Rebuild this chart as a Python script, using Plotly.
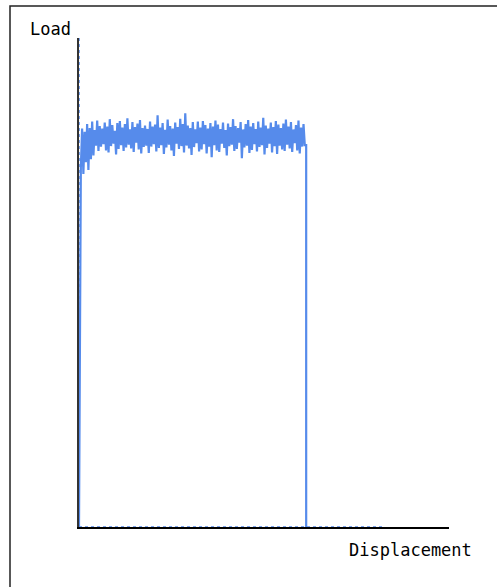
import plotly.graph_objects as go

W, H = 497, 587

# Sampling interval of the recorded displacement (arbitrary units)
step = 0.34
start_disp = 0.5

# Load readings along the plateau (arbitrary units 0-100)
plateau_load = [
    73.5, 81.5, 72.2, 80.8, 74.6, 82.4, 73.0, 81.6, 75.2, 82.9, 76.0, 81.2, 78.0, 83.1, 76.9, 82.0, 77.8, 81.5, 78.3,
    82.7, 77.0, 81.9, 76.6, 83.4, 77.9, 82.2, 78.4, 81.0, 76.2, 82.6, 77.3, 83.0, 78.1, 81.7, 76.9, 82.4, 77.6, 83.6, 78.2,
    81.3, 77.4, 82.8, 76.7, 81.8, 78.6, 82.5, 77.2, 83.2, 76.4, 81.6, 77.7, 82.1, 78.0, 81.4, 76.5, 82.9, 77.8, 81.9, 78.3,
    82.3, 76.8, 84.2, 77.5, 81.7, 78.1, 82.6, 76.3, 81.2, 77.6, 83.3, 78.2, 82.0, 77.0, 81.5, 75.9, 82.7, 78.4, 81.8, 77.3,
    83.5, 77.9, 82.4, 76.6, 84.6, 78.0, 82.1, 77.4, 81.6, 76.1, 82.8, 77.7, 81.3, 78.5, 82.9, 76.8, 81.7, 77.2, 83.0, 78.3,
    82.2, 76.4, 81.5, 77.8, 82.6, 75.6, 81.9, 78.1, 83.1, 77.0, 82.3, 76.7, 81.4, 78.4, 82.7, 77.5, 81.2, 76.0, 82.5, 77.9,
    81.8, 78.2, 83.4, 76.9, 82.0, 77.3, 81.6, 78.6, 82.8, 75.4, 81.3, 77.6, 82.4, 78.0, 83.2, 76.5, 81.9, 77.1, 82.6, 78.3,
    81.4, 76.8, 82.9, 77.7, 81.7, 78.1, 83.7, 76.2, 82.1, 77.5, 81.5, 78.4, 82.7, 76.6, 81.8, 77.9, 83.0, 76.3, 82.3, 78.0,
    81.6, 77.2, 82.5, 76.9, 83.3, 78.2, 81.9, 77.4, 82.8, 76.7, 81.3, 78.5, 82.2, 77.0, 83.1, 76.4, 81.7, 77.8, 82.4, 78.1,
]

# Failure point and residual readings after failure
failure_disp = 61.4
residual_end_disp = 82.0

x_range = [0, 100]
y_range = [0, 100]

line_color = "#568BEB"

disp = [0.0] + [start_disp + i * step for i in range(len(plateau_load))] + [failure_disp, failure_disp]
load = [0.0] + plateau_load + [plateau_load[-1], 0.0]

fig = go.Figure()

# readings recorded at zero displacement (along the load axis)
fig.add_trace(go.Scatter(x=[0, 0], y=[0, y_range[1]], mode="lines",
                         line=dict(color=line_color, width=1.5, dash="dot"),
                         hoverinfo="skip", showlegend=False))
# residual readings after failure (along the displacement axis)
fig.add_trace(go.Scatter(x=[0, residual_end_disp], y=[0, 0], mode="lines",
                         line=dict(color=line_color, width=1.5, dash="dot"),
                         hoverinfo="skip", showlegend=False))
# main curve
fig.add_trace(go.Scatter(x=disp, y=load, mode="lines",
                         line=dict(color=line_color, width=2.2),
                         showlegend=False))

left_px, right_px, top_px, bottom_px = 79, 449, 38, 527

fig.update_layout(
    width=W, height=H,
    margin=dict(l=0, r=0, t=0, b=0),
    paper_bgcolor="white", plot_bgcolor="white",
    xaxis=dict(domain=[left_px / W, right_px / W], range=x_range,
               showgrid=False, zeroline=False, showticklabels=False, ticks="",
               showline=True, linecolor="black", linewidth=1.5),
    yaxis=dict(domain=[1 - bottom_px / H, 1 - top_px / H], range=y_range,
               showgrid=False, zeroline=False, showticklabels=False, ticks="",
               showline=True, linecolor="#333", linewidth=1.5),
    font=dict(family="DejaVu Sans Mono", color="black"),
    shapes=[
        dict(type="rect", xref="paper", yref="paper",
             x0=10 / W, x1=1.02, y0=-0.02, y1=1 - 6 / H,
             line=dict(color="#222", width=1.5), fillcolor="rgba(0,0,0,0)"),
    ],
    annotations=[
        dict(text="Load", xref="paper", yref="paper", x=50 / W, y=1 - 29 / H,
             showarrow=False, xanchor="center", yanchor="middle",
             font=dict(size=17, family="DejaVu Sans Mono")),
        dict(text="Displacement", xref="paper", yref="paper", x=410 / W, y=1 - 550 / H,
             showarrow=False, xanchor="center", yanchor="middle",
             font=dict(size=17, family="DejaVu Sans Mono")),
    ],
)

fig.write_html("out.html",
               config={"displayModeBar": False},
               post_script="document.body.style.margin='0';document.body.style.overflow='hidden';")
